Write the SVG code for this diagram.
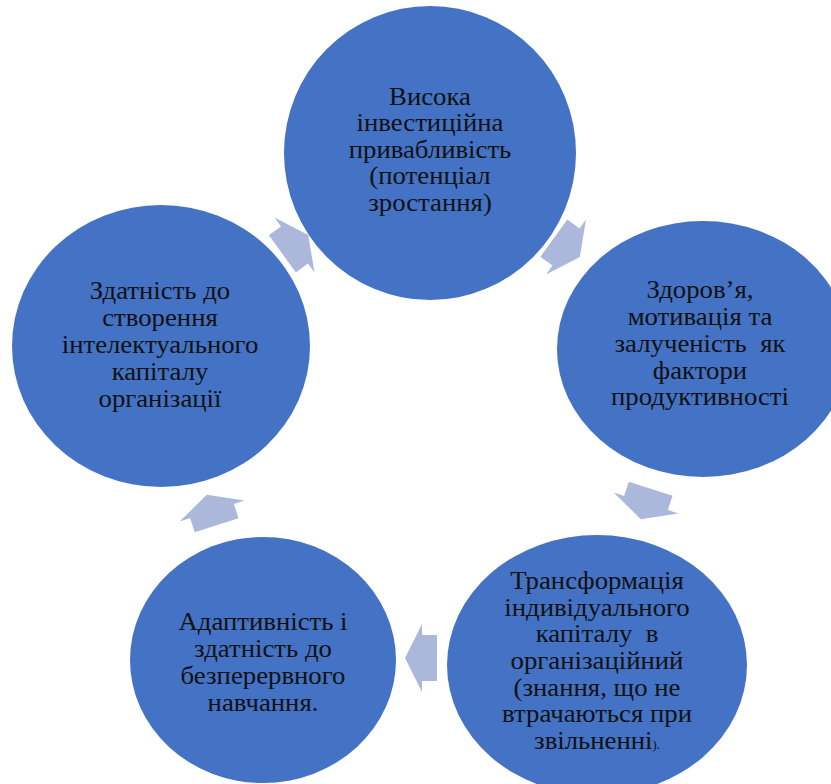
<svg xmlns="http://www.w3.org/2000/svg" width="831" height="784" viewBox="0 0 831 784">
  <style>
    .node { fill: #4472C4; }
    .lbl { font-family: "Liberation Serif", "Times New Roman", serif; font-size: 25.5px; fill: #111111; text-anchor: middle; white-space: pre; }
    .arrow { fill: #ABB8DC; }
  </style>
  <defs>
    <!-- block arrow pointing along +x, origin at the middle of the head base -->
    <polygon id="blockArrow" class="arrow" points="-15,-23 0,-23 0,-34 17,0 0,34 0,23 -15,23"/>
  </defs>

  <rect width="831" height="784" fill="#ffffff"/>

  <g id="connectors">
    <use href="#blockArrow" transform="translate(294.5,245) rotate(-36)"/>
    <use href="#blockArrow" transform="translate(566,247) rotate(36)"/>
    <use href="#blockArrow" transform="translate(646,503) rotate(108)"/>
    <use href="#blockArrow" transform="translate(422,658) rotate(180)"/>
    <use href="#blockArrow" transform="translate(212,511) rotate(-108)"/>
  </g>

  <g id="node-investment">
    <ellipse class="node" cx="430" cy="153" rx="146" ry="147"/>
    <g transform="translate(430,0) scale(1.05,1)">
      <text class="lbl" x="0" y="105">Висока</text>
      <text class="lbl" x="0" y="131.5">інвестиційна</text>
      <text class="lbl" x="0" y="158">привабливість</text>
      <text class="lbl" x="0" y="184.5">(потенціал</text>
      <text class="lbl" x="0" y="211">зростання)</text>
    </g>
  </g>

  <g id="node-health">
    <ellipse class="node" cx="703" cy="349" rx="146" ry="128"/>
    <g transform="translate(700,0) scale(1.05,1)">
      <text class="lbl" x="0" y="298">Здоров’я,</text>
      <text class="lbl" x="0" y="325">мотивація та</text>
      <text class="lbl" x="0" y="352">залученість  як</text>
      <text class="lbl" x="0" y="379">фактори</text>
      <text class="lbl" x="0" y="405">продуктивності</text>
    </g>
  </g>

  <g id="node-transformation">
    <ellipse class="node" cx="597" cy="665" rx="150" ry="130"/>
    <g transform="translate(597,0) scale(1.05,1)">
      <text class="lbl" x="0" y="589">Трансформація</text>
      <text class="lbl" x="0" y="616">індивідуального</text>
      <text class="lbl" x="0" y="642.5">капіталу  в</text>
      <text class="lbl" x="0" y="669">організаційний</text>
      <text class="lbl" x="0" y="696">(знання, що не</text>
      <text class="lbl" x="0" y="722.5">втрачаються при</text>
      <text class="lbl" x="0" y="749">звільненні<tspan font-size="12px">).</tspan></text>
    </g>
  </g>

  <g id="node-adaptability">
    <ellipse class="node" cx="263" cy="660" rx="133" ry="123"/>
    <g transform="translate(263,0) scale(1.05,1)">
      <text class="lbl" x="0" y="630">Адаптивність і</text>
      <text class="lbl" x="0" y="657">здатність до</text>
      <text class="lbl" x="0" y="684">безперервного</text>
      <text class="lbl" x="0" y="711">навчання.</text>
    </g>
  </g>

  <g id="node-capital">
    <ellipse class="node" cx="161" cy="346" rx="149" ry="141"/>
    <g transform="translate(160,0) scale(1.05,1)">
      <text class="lbl" x="0" y="299">Здатність до</text>
      <text class="lbl" x="0" y="326">створення</text>
      <text class="lbl" x="0" y="353">інтелектуального</text>
      <text class="lbl" x="0" y="380">капіталу</text>
      <text class="lbl" x="0" y="407">організації</text>
    </g>
  </g>
</svg>
